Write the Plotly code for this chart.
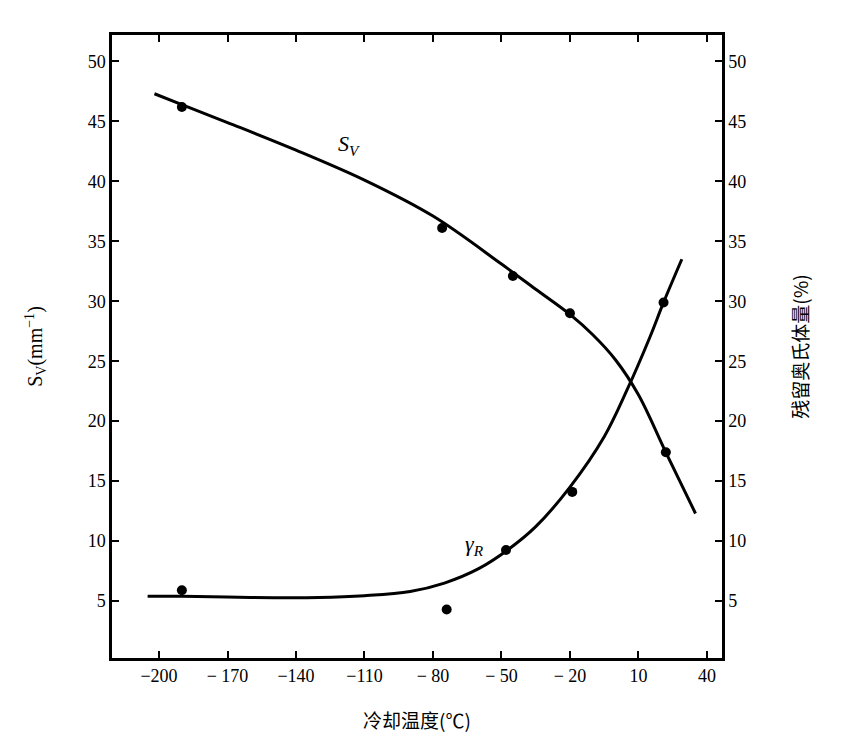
import plotly.graph_objects as go

# Tick labels / categories
x_ticks = [-200, -170, -140, -110, -80, -50, -20, 10, 40]
x_ticktext = ["−200", "− 170", "−140", "−110", "− 80", "− 50", "− 20", "10", "40"]
y_ticks = [5, 10, 15, 20, 25, 30, 35, 40, 45, 50]

# S_V (mm^-1) measured points
sv_x = [-190, -76, -45, -20, 22]
sv_y = [46.2, 36.1, 32.1, 29.0, 17.4]
# S_V fitted curve
sv_curve_x = [-202, -190, -170, -140, -110, -80, -50, -35, -20, -10, 0, 10, 22, 35]
sv_curve_y = [47.3, 46.4, 44.9, 42.6, 40.1, 37.1, 33.1, 31.0, 28.9, 27.2, 25.1, 22.2, 17.4, 12.3]

# Retained austenite (%) measured points
gr_x = [-190, -74, -48, -19, 21]
gr_y = [5.9, 4.3, 9.25, 14.1, 29.9]
# Retained austenite fitted curve
gr_curve_x = [-205, -190, -160, -130, -110, -90, -75, -60, -47, -35, -20, -5, 5, 15, 21, 29]
gr_curve_y = [5.4, 5.4, 5.3, 5.3, 5.45, 5.8, 6.5, 7.7, 9.3, 11.2, 14.5, 18.7, 22.6, 27.0, 29.9, 33.5]

x_range = [-220.6, 46.6]
y_range = [0.25, 52.2]

fig = go.Figure()
fig.add_trace(go.Scatter(x=sv_curve_x, y=sv_curve_y, mode="lines",
                         line=dict(color="black", width=3, shape="spline", smoothing=1.0),
                         showlegend=False, hoverinfo="skip"))
fig.add_trace(go.Scatter(x=sv_x, y=sv_y, mode="markers",
                         marker=dict(color="black", size=10), showlegend=False))
fig.add_trace(go.Scatter(x=gr_curve_x, y=gr_curve_y, mode="lines", yaxis="y2",
                         line=dict(color="black", width=3, shape="spline", smoothing=1.0),
                         showlegend=False, hoverinfo="skip"))
fig.add_trace(go.Scatter(x=gr_x, y=gr_y, mode="markers", yaxis="y2",
                         marker=dict(color="black", size=10), showlegend=False))

tickfont = dict(family="Liberation Serif, serif", size=18, color="black")

fig.update_layout(
    width=844, height=740,
    margin=dict(l=104, r=130, t=27, b=90),
    paper_bgcolor="white", plot_bgcolor="white",
    xaxis=dict(range=x_range, tickvals=x_ticks, ticktext=x_ticktext, automargin=False,
               showline=True, linecolor="black", linewidth=2.5, mirror="ticks",
               ticks="inside", ticklen=7, tickwidth=1.5, tickcolor="black",
               showgrid=False, zeroline=False, tickfont=tickfont,
               title=dict(text="冷却温度(℃)", standoff=30,
                          font=dict(family="Noto Sans CJK SC", size=19, color="black"))),
    yaxis=dict(range=y_range, tickvals=y_ticks, automargin=False,
               showline=True, linecolor="black", linewidth=2.5,
               ticks="inside", ticklen=7, tickwidth=1.5, tickcolor="black",
               showgrid=False, zeroline=False, tickfont=tickfont,
               title=dict(text="S<sub>V</sub>(mm<sup>−1</sup>)", standoff=40,
                          font=dict(family="Liberation Serif, serif", size=20, color="black"))),
    yaxis2=dict(range=y_range, tickvals=y_ticks, overlaying="y", side="right", automargin=False,
                showline=True, linecolor="black", linewidth=2.5,
                ticks="inside", ticklen=7, tickwidth=1.5, tickcolor="black",
                showgrid=False, zeroline=False, tickfont=tickfont,
                title=dict(text="残留奥氏体量(%)", standoff=50,
                           font=dict(family="Noto Sans CJK SC", size=19, color="black"))),
    annotations=[
        dict(x=-117, y=43, xref="x", yref="y", text="<i>S<sub>V</sub></i>", showarrow=False,
             font=dict(family="Liberation Serif, serif", size=22, color="black")),
        dict(x=-62, y=9.7, xref="x", yref="y", text="<i>γ<sub>R</sub></i>", showarrow=False,
             font=dict(family="Liberation Serif, serif", size=22, color="black")),
    ],
)

fig.write_html("out.html")
